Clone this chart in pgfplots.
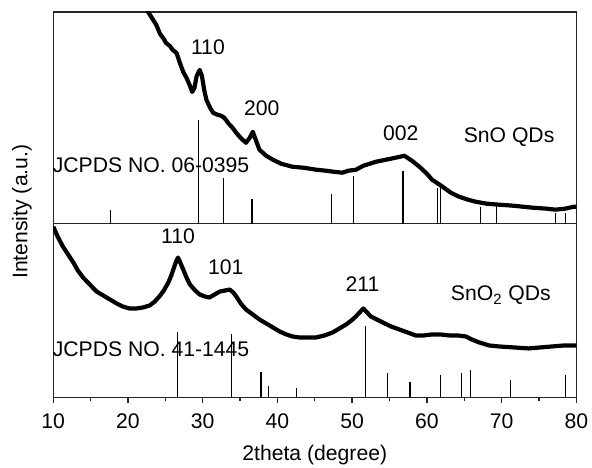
\documentclass[border=0pt]{standalone}
\usepackage{fontspec}
\setmainfont{Liberation Sans}
\usepackage{pgfplots}
\pgfplotsset{compat=1.18}

\begin{document}
\fontsize{10.6}{12.5}\selectfont
\begin{tikzpicture}
\path[use as bounding box] (-26.65pt,-35pt) rectangle (269.85pt,199pt);
\pgfplotsset{
  xrd/.style={
    scale only axis, width=262pt, xmin=10, xmax=80, ymin=0,
    axis line style={line width=0.7pt, black!85},
    ytick=\empty,
  },
  curve/.style={black, line width=2.1pt, line join=round},
  sticks/.style={ycomb, black, line width=0.6pt, mark=none},
}
% bottom panel: SnO2
\begin{axis}[xrd, name=bot, height=87pt, ymax=174,
  xtick={10,20,...,80}, minor x tick num=1, tick align=outside,
  xtick pos=bottom, major tick length=3pt, minor tick length=1.8pt,
  tick style={line width=0.7pt, black!85},
  /pgf/number format/assume math mode=true,
  xticklabel style={yshift=-1.5pt},
  xlabel={2theta (degree)}, xlabel style={yshift=-0.8pt},
]
\addplot[curve] coordinates {
(10.0,171) (10.6,161) (11.3,151) (12.0,143) (12.7,135) (13.3,127) (14.0,120)
(14.9,113) (15.8,106) (16.7,102) (17.6,98) (18.5,94) (19.3,91) (20.2,89)
(21.1,89) (22.0,90) (22.9,92) (23.6,96) (24.2,101) (24.8,107) (25.4,115)
(25.8,122) (26.2,131) (26.5,137) (26.7,140) (27.0,135) (27.4,128) (27.9,119)
(28.3,113) (29.0,107) (29.6,103) (30.3,101) (30.9,100) (31.6,103) (32.3,106)
(33.0,107) (33.6,108) (34.1,105) (34.5,101) (35.1,94) (35.8,88) (36.7,83)
(37.6,78) (38.5,74) (39.4,70) (40.3,66) (41.2,63) (42.0,61) (42.9,60)
(44.0,60) (45.2,60) (46.3,62) (47.4,65) (48.3,69) (49.2,73) (49.9,77)
(50.5,81) (51.0,85) (51.5,89) (52.0,85) (52.5,81) (53.3,78) (54.1,75)
(55.2,71) (56.3,68) (57.4,65) (58.5,62) (59.6,62) (60.7,63) (61.8,63)
(63.0,62) (64.1,62) (65.2,61) (66.0,58) (67.0,55) (68.3,52) (69.6,51)
(71.6,50) (73.6,49) (75.2,50) (76.8,51) (78.4,52) (80.0,52)
};
\addplot[sticks] coordinates {
(26.6,65) (33.9,63) (37.8,25) (38.85,11) (42.6,9) (51.75,71) (54.7,24)
(57.75,15) (61.85,22) (64.65,24) (65.85,27) (71.15,17) (78.55,22)
};
\node at (axis cs:26.7,161) {110};
\node at (axis cs:33.1,130) {101};
\node at (axis cs:51.4,113) {211};
\node at (axis cs:69.9,102) {SnO\textsubscript{2} QDs};
\node[anchor=west, inner sep=0pt] at (axis cs:9.9,48) {JCPDS NO. 41-1445};
\end{axis}
% top panel: SnO
\begin{axis}[xrd, at={(0,87pt)}, height=106pt, ymax=212, xtick=\empty]
\addplot[curve] coordinates {
(22.0,225) (22.7,212) (23.3,205) (23.8,199) (24.3,190) (24.8,185) (25.1,181)
(25.6,178) (26.0,174) (26.5,171) (27.0,160) (27.4,152) (27.9,145) (28.3,138)
(28.6,132) (28.9,136) (29.2,148) (29.6,154) (29.9,148) (30.2,134) (30.5,124)
(31.0,116) (31.4,111) (32.0,109) (32.5,108) (32.9,106) (33.5,100) (34.0,96)
(34.6,90) (35.2,85) (35.8,81) (36.3,86) (36.7,92) (37.1,84) (37.6,74)
(38.5,68) (39.4,64) (40.5,60) (42.0,57) (43.5,56) (45.2,54) (46.5,53)
(47.5,52) (48.7,51) (49.5,53) (50.5,54) (51.5,58) (53.2,62) (54.5,64)
(55.8,66) (57.0,68) (58.0,63) (59.0,57) (60.0,50) (60.7,44) (61.5,40)
(62.1,37) (63.2,31) (64.3,27) (65.5,24) (66.5,22) (68.0,20) (69.6,19)
(71.5,18) (74.1,16) (76.0,15) (77.2,14) (78.5,15) (79.7,17) (80.0,17)
};
\addplot[sticks] coordinates {
(17.7,14) (29.4,104) (32.8,46) (36.6,25) (47.25,30) (50.15,48) (56.8,53)
(61.45,36) (61.85,36) (67.2,17) (69.3,20) (77.2,11) (78.55,11)
};
\node at (axis cs:30.7,177) {110};
\node at (axis cs:37.9,116) {200};
\node at (axis cs:56.5,91) {002};
\node at (axis cs:71.0,87) {SnO QDs};
\node[anchor=west, inner sep=0pt] at (axis cs:9.9,59) {JCPDS NO. 06-0395};
\end{axis}
\node[rotate=90] at (-15.7pt,93pt) {Intensity (a.u.)};
\end{tikzpicture}
\end{document}
